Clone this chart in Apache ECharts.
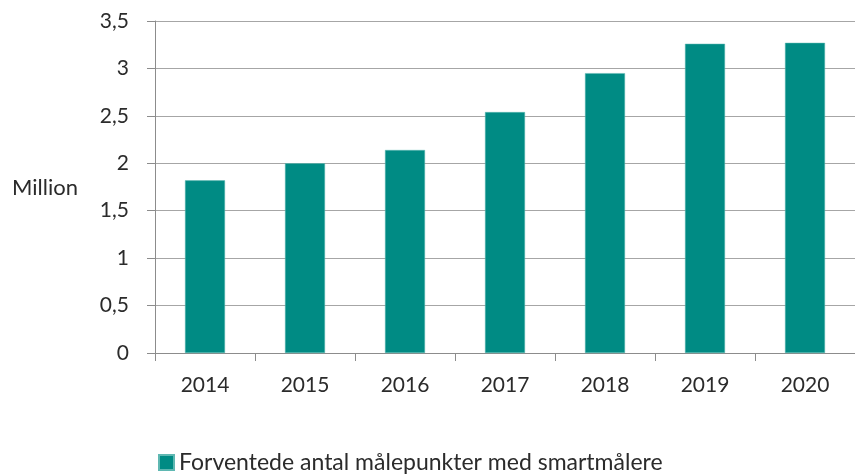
<!DOCTYPE html>
<html>
<head>
<meta charset="utf-8">
<script src="https://cdn.jsdelivr.net/npm/echarts@6/dist/echarts.min.js"></script>
<style>
  html, body { margin: 0; padding: 0; background: #fff; }
  #chart { width: 855px; height: 475px; }
</style>
</head>
<body>
<div id="chart"></div>
<script>
// data
const years = ['2014', '2015', '2016', '2017', '2018', '2019', '2020']
const meteringPoints = [1.82, 2.0, 2.14, 2.54, 2.95, 3.26, 3.27]
const seriesName = 'Forventede antal målepunkter med smartmålere'

const textColor = '#2b2b2b'
const barColor = '#008B84'
const fontFamily = 'Lato, "Open Sans", sans-serif'

const chart = echarts.init(document.getElementById('chart'))

chart.setOption({
  animation: false,
  textStyle: { fontFamily: fontFamily, color: textColor },
  grid: { left: 155, right: 0, top: 21, bottom: 122 },
  legend: {
    data: [seriesName],
    left: 153,
    top: 446,
    icon: 'rect',
    itemWidth: 15,
    itemHeight: 15,
    itemGap: 8,
    textStyle: { fontSize: 23, color: textColor, fontFamily: fontFamily }
  },
  graphic: [
    {
      type: 'text',
      left: 12,
      top: 177,
      style: { text: 'Million', fontSize: 22, fill: textColor, fontFamily: fontFamily }
    }
  ],
  xAxis: {
    type: 'category',
    data: years,
    axisLine: { lineStyle: { color: '#8c8c8c', width: 1 } },
    axisTick: { show: true, length: 8, alignWithLabel: false, lineStyle: { color: '#8c8c8c' } },
    axisLabel: { fontSize: 21, color: textColor, margin: 22 }
  },
  yAxis: {
    type: 'value',
    min: 0,
    max: 3.5,
    interval: 0.5,
    axisLine: { show: true, lineStyle: { color: '#8c8c8c', width: 1 } },
    axisTick: { show: true, length: 8, lineStyle: { color: '#8c8c8c' } },
    axisLabel: {
      fontSize: 21,
      color: textColor,
      margin: 26,
      formatter: (v) => String(v).replace('.', ',')
    },
    splitLine: { lineStyle: { color: '#a6a6a6', width: 1 } }
  },
  series: [
    {
      name: seriesName,
      type: 'bar',
      data: meteringPoints,
      barWidth: '40%',
      itemStyle: { color: barColor, borderColor: '#5fb8b2', borderWidth: 0.5 }
    }
  ]
})
</script>
</body>
</html>
